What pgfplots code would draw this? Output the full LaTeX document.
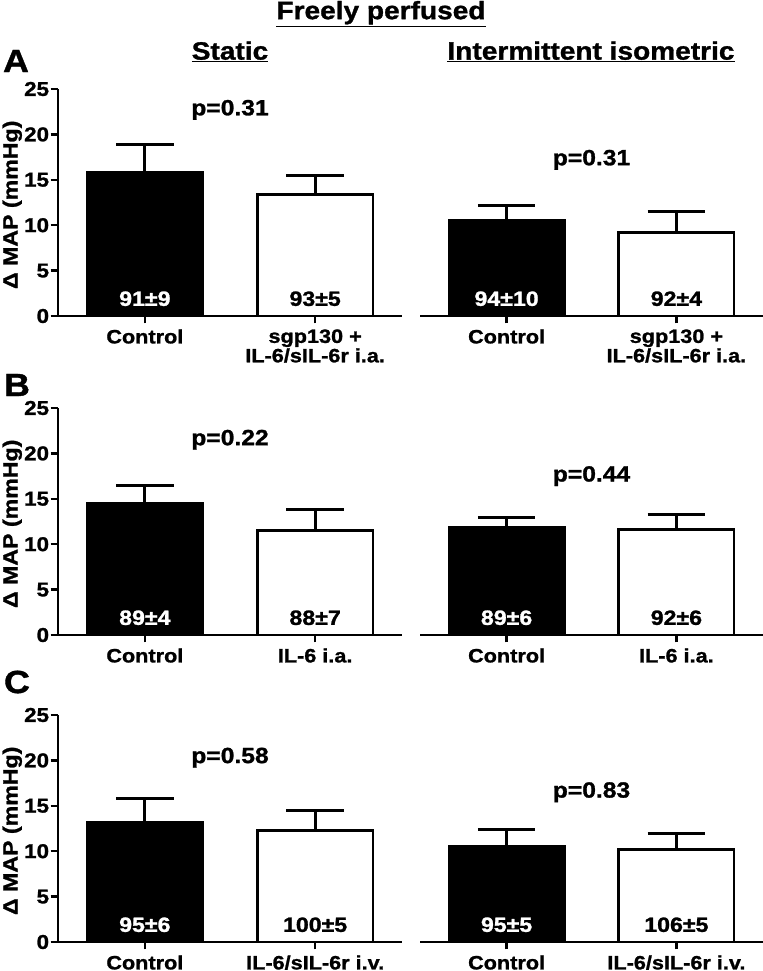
\documentclass[border=0pt]{standalone}
\usepackage{pgfplots}
\pgfplotsset{compat=1.18}
\usepackage{fontspec}
\setmainfont{Liberation Sans}[FakeStretch=1.12, BoldFeatures={FakeBold=1.2}]
\newcommand\yt[1]{{\fontsize{15}{15}\selectfont\bfseries #1}}

\pgfplotsset{
 panel/.style={
  scale only axis, width=258pt, height=170.25pt, anchor=south west,
  xmin=-0.51, xmax=1.51, ymin=0, ymax=25,
  xtick={0,1}, ytick={0,5,10,15,20,25},
  yticklabels={\yt{0},\yt{5},\yt{10},\yt{15},\yt{20},\yt{25}},
  axis line style={line width=2pt},
  every tick/.style={line width=1.8pt, black},
  major tick length=5.5pt, tick align=outside,
  /pgf/number format/assume math mode=true,
  yticklabel style={font=\bfseries\fontsize{15}{15}\selectfont, inner sep=1pt},
  xticklabel style={align=center, font=\bfseries\fontsize{14.5}{13.5}\selectfont, yshift=-1pt},
  clip=false,
 },
 leftpanel/.style={panel, axis x line*=bottom, axis y line*=left,
   ylabel={Δ MAP (mmHg)},
   ylabel style={font=\bfseries\fontsize{15.5}{15.5}\selectfont, at={(axis description cs:-0.133,0.49)}, anchor=center}},
 rightpanel/.style={panel, width=257.25pt, axis x line*=bottom, axis y line=none, ytick=\empty},
 blackbar/.style={ybar, bar width=0.68, fill=black, draw=black, line width=2pt,
   error bars/.cd, y dir=plus, y explicit,
   error bar style={line width=2.2pt, black},
   error mark options={black, line width=2.2pt, mark size=21.5pt, rotate=90}},
 whitebar/.style={ybar, bar width=0.68, fill=white, draw=black, line width=2pt,
   error bars/.cd, y dir=plus, y explicit,
   error bar style={line width=2.2pt, black},
   error mark options={black, line width=2.2pt, mark size=21.5pt, rotate=90}},
}
\tikzset{
 pval/.style={font=\bfseries\fontsize{16.5}{16.5}\selectfont},
 wval/.style={white, font=\bfseries\fontsize{15.5}{15.5}\selectfont},
 bval/.style={black, font=\bfseries\fontsize{15.5}{15.5}\selectfont},
 ttl/.style={font=\bfseries\fontsize{18.8}{18.8}\selectfont},
}

\begin{document}
\begin{tikzpicture}
\path[use as bounding box] (0,0) rectangle (572.25pt,-728.25pt);

\node[ttl] at (285.75pt,-10.5pt) {\underline{Freely perfused}};
\node[ttl] at (172.5pt,-39pt) {\underline{Static}};
\node[ttl] at (443.25pt,-39pt) {\underline{Intermittent isometric}};
\node[font=\bfseries\fontsize{24}{24}\selectfont] at (12pt,-45.75pt) {A};
\node[font=\bfseries\fontsize{24}{24}\selectfont] at (12.75pt,-288.75pt) {B};
\node[font=\bfseries\fontsize{24}{24}\selectfont] at (12.75pt,-511.5pt) {C};

% Row A
\begin{axis}[leftpanel, at={(43.5pt,-237pt)},
  xticklabels={Control, {sgp130 +\\IL-6/sIL-6r i.a.}}]
\addplot[blackbar] coordinates {(0,15.8) +- (0,3.1)};
\addplot[whitebar] coordinates {(1,13.4) +- (0,2.1)};
\node[pval] at (axis cs:0.5,22.7) {p=0.31};
\node[wval] at (axis cs:0,1.9) {91±9};
\node[bval] at (axis cs:1,1.9) {93±5};
\end{axis}
\begin{axis}[rightpanel, at={(315pt,-237pt)},
  xticklabels={Control, {sgp130 +\\IL-6/sIL-6r i.a.}}]
\addplot[blackbar] coordinates {(0,10.5) +- (0,1.7)};
\addplot[whitebar] coordinates {(1,9.2) +- (0,2.3)};
\node[pval] at (axis cs:0.5,17.2) {p=0.31};
\node[wval] at (axis cs:0,1.9) {94±10};
\node[bval] at (axis cs:1,1.9) {92±4};
\end{axis}

% Row B
\begin{axis}[leftpanel, at={(43.5pt,-476.25pt)},
  xticklabels={Control, IL-6 i.a.}]
\addplot[blackbar] coordinates {(0,14.55) +- (0,1.95)};
\addplot[whitebar] coordinates {(1,11.5) +- (0,2.3)};
\node[pval] at (axis cs:0.5,21.5) {p=0.22};
\node[wval] at (axis cs:0,1.9) {89±4};
\node[bval] at (axis cs:1,1.9) {88±7};
\end{axis}
\begin{axis}[rightpanel, at={(315pt,-476.25pt)},
  xticklabels={Control, IL-6 i.a.}]
\addplot[blackbar] coordinates {(0,11.9) +- (0,1.0)};
\addplot[whitebar] coordinates {(1,11.65) +- (0,1.65)};
\node[pval] at (axis cs:0.5,17.5) {p=0.44};
\node[wval] at (axis cs:0,1.9) {89±6};
\node[bval] at (axis cs:1,1.9) {92±6};
\end{axis}

% Row C
\begin{axis}[leftpanel, at={(43.5pt,-706.5pt)},
  xticklabels={Control, IL-6/sIL-6r i.v.}]
\addplot[blackbar] coordinates {(0,13.2) +- (0,2.6)};
\addplot[whitebar] coordinates {(1,12.3) +- (0,2.2)};
\node[pval] at (axis cs:0.5,20.3) {p=0.58};
\node[wval] at (axis cs:0,1.9) {95±6};
\node[bval] at (axis cs:1,1.9) {100±5};
\end{axis}
\begin{axis}[rightpanel, at={(315pt,-706.5pt)},
  xticklabels={Control, IL-6/sIL-6r i.v.}]
\addplot[blackbar] coordinates {(0,10.5) +- (0,1.9)};
\addplot[whitebar] coordinates {(1,10.2) +- (0,1.7)};
\node[pval] at (axis cs:0.5,16.5) {p=0.83};
\node[wval] at (axis cs:0,1.9) {95±5};
\node[bval] at (axis cs:1,1.9) {106±5};
\end{axis}
\end{tikzpicture}
\end{document}
